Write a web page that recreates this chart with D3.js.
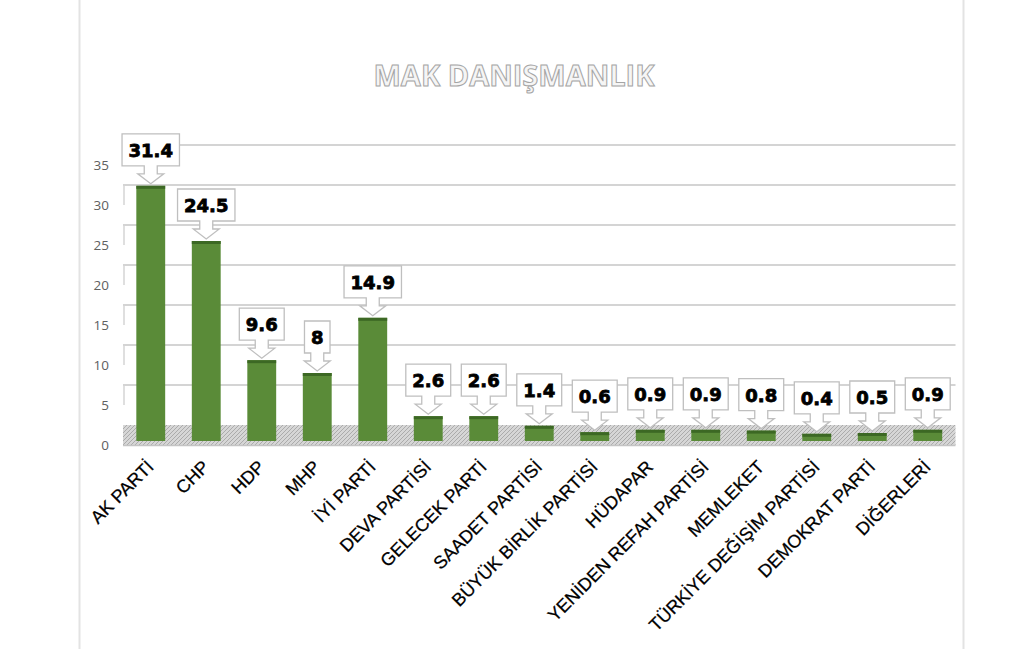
<!DOCTYPE html>
<html><head><meta charset="utf-8">
<script src="https://cdn.jsdelivr.net/npm/d3@7/dist/d3.min.js"></script>
<style>html,body{margin:0;padding:0;background:#fff;}svg{display:block;}</style>
</head><body>
<svg id="c" width="1024" height="649"></svg>
<script>
const title = "MAK DANIŞMANLIK";
const categories = ["AK PARTİ","CHP","HDP","MHP","İYİ PARTİ","DEVA PARTİSİ","GELECEK PARTİ","SAADET PARTİSİ","BÜYÜK BİRLİK PARTİSİ","HÜDAPAR","YENİDEN REFAH PARTİSİ","MEMLEKET","TÜRKİYE DEĞİŞİM PARTİSİ","DEMOKRAT PARTİ","DİĞERLERİ"];
const values = [31.4,24.5,9.6,8,14.9,2.6,2.6,1.4,0.6,0.9,0.9,0.8,0.4,0.5,0.9];
const yTicks = [0,5,10,15,20,25,30,35];

const svg = d3.select("#c");
const depth = 20;
const x = d3.scaleBand().domain(categories).range([123,955.5]).paddingInner(0.48).paddingOuter(0.24);
const y = d3.scaleLinear().domain([0,35]).range([445,165]);

// page borders
svg.append("line").attr("x1",79.5).attr("x2",79.5).attr("y1",0).attr("y2",649).attr("stroke","#e3e3e3").attr("stroke-width",2);
svg.append("line").attr("x1",963.5).attr("x2",963.5).attr("y1",0).attr("y2",649).attr("stroke","#e3e3e3").attr("stroke-width",2);

// title
svg.append("text").attr("x",514).attr("y",86).attr("text-anchor","middle")
  .attr("font-family","Open Sans, sans-serif").attr("font-weight","bold").attr("font-size",29)
  .attr("fill","#f5f5f5").attr("stroke","#a5a5a5").attr("stroke-width",1).text(title);

// hatch pattern
const defs = svg.append("defs");
const pat = defs.append("pattern").attr("id","hatch").attr("patternUnits","userSpaceOnUse").attr("width",4).attr("height",4);
pat.append("rect").attr("width",4).attr("height",4).attr("fill","#d6d6d6");
pat.append("path").attr("d","M-1,1 l2,-2 M0,4 l4,-4 M3,5 l2,-2").attr("stroke","#ababab").attr("stroke-width",1);

// gridlines (back wall) with side stubs
const x0 = x.range()[0], x1 = x.range()[1];
yTicks.filter(v=>v>0).forEach(v=>{
  const yb = y(v)-depth;
  svg.append("line").attr("x1",x0).attr("x2",x1).attr("y1",yb).attr("y2",yb).attr("stroke","#d4d4d4").attr("stroke-width",2);
  svg.append("line").attr("x1",x0+1).attr("x2",x0+1).attr("y1",yb).attr("y2",y(v)).attr("stroke","#d4d4d4").attr("stroke-width",1.5);
});

// floor
svg.append("rect").attr("x",x0).attr("y",y(0)-depth).attr("width",x1-x0).attr("height",depth).attr("fill","url(#hatch)");
svg.append("line").attr("x1",x0).attr("x2",x1).attr("y1",y(0)+0.5).attr("y2",y(0)+0.5).attr("stroke","#c4c4c4").attr("stroke-width",1.5);

// y tick labels
svg.append("g").selectAll("text").data(yTicks).join("text")
  .attr("x",109).attr("y",d=>y(d)).attr("dy","0.36em").attr("text-anchor","end")
  .attr("font-family","Open Sans, sans-serif").attr("font-size",13.5).attr("fill","#606060").text(d=>d);

// bars
const data = categories.map((c,i)=>({c, v: values[i]}));
const barTop = d => y(d.v) - 8;
const barBottom = y(0) - 4;
const g = svg.append("g");
g.selectAll("rect.bar").data(data).join("rect").attr("class","bar")
  .attr("x",d=>x(d.c)).attr("width",x.bandwidth())
  .attr("y",barTop).attr("height",d=>barBottom-barTop(d)).attr("fill","#5a8b38");
g.selectAll("rect.top").data(data).join("rect").attr("class","top")
  .attr("x",d=>x(d.c)).attr("width",x.bandwidth())
  .attr("y",barTop).attr("height",3).attr("fill","#3c6824");

// x labels
svg.append("g").selectAll("text").data(categories).join("text")
  .attr("transform",d=>`translate(${x(d)+x.bandwidth()/2+4},${468}) rotate(-45)`)
  .attr("text-anchor","end").attr("font-family","Liberation Sans, Arial, sans-serif")
  .attr("font-size",18).attr("fill","#000").attr("stroke","#000").attr("stroke-width",0.25).text(d=>d);

// callouts
const cg = svg.append("g");
data.forEach(d=>{
  const cx = x(d.c)+x.bandwidth()/2;
  const tip = barTop(d) - 2;
  const hb = tip - 18, hh = tip - 10;
  const t = cg.append("text").attr("font-family","DejaVu Sans, sans-serif").attr("font-weight","bold")
    .attr("font-size",18).attr("text-anchor","middle").attr("fill","#000")
    .attr("stroke","#000").attr("stroke-width",0.8).text(d.v);
  const w = t.node().getComputedTextLength() + 13;
  const bt = hb - 32;
  const bx0 = cx - w/2, bx1 = cx + w/2;
  const p = `M${bx0},${bt} H${bx1} V${hb} H${cx+6.5} V${hh} H${cx+13} L${cx},${tip} L${cx-13},${hh} H${cx-6.5} V${hb} H${bx0} Z`;
  cg.insert("path", () => t.node()).attr("d",p).attr("fill","#fff").attr("stroke","#bfbfbf").attr("stroke-width",1.3);
  t.attr("x",cx).attr("y",bt+23);
});
</script>
</body></html>
